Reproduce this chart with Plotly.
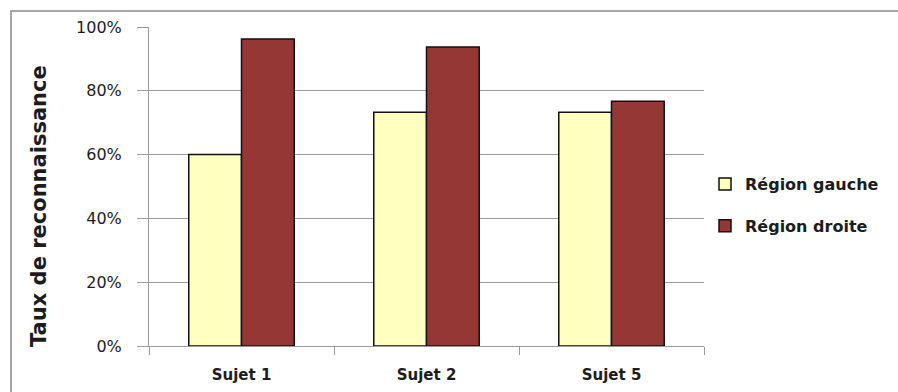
import plotly.graph_objects as go

# Recognition rate per subject, for the left and right regions
sujets = ["Sujet 1", "Sujet 2", "Sujet 5"]
region_gauche = [0.60, 0.733, 0.733]
region_droite = [0.962, 0.937, 0.767]
series_names = ["Région gauche", "Région droite"]
y_ticks = [0, 0.2, 0.4, 0.6, 0.8, 1.0]
y_title = "Taux de reconnaissance"

W, H = 898, 392
L, R, T, B = 149, 194, 27, 46
pw, ph = W - L - R, H - T - B


def px_x(x):
    return (x - L) / pw


def px_y(y):
    return (H - B - y) / ph


FONT = "DejaVu Sans"
TXT = "#1c1c1c"
GRID = "#9a9a9a"

fig = go.Figure()
fig.add_bar(x=sujets, y=region_gauche, name=series_names[0],
            marker=dict(color="#FFFFC0", line=dict(color="#111111", width=1.5)),
            legendgroup="g")
fig.add_bar(x=sujets, y=region_droite, name=series_names[1],
            marker=dict(color="#953735", line=dict(color="#111111", width=1.5)),
            legendgroup="d")

fig.update_layout(
    width=W, height=H,
    margin=dict(l=L, r=R, t=T, b=B, pad=0, autoexpand=False),
    paper_bgcolor="white", plot_bgcolor="white",
    barmode="group", bargap=0.43, bargroupgap=0,
    font=dict(family=FONT, color=TXT),
    showlegend=True,
    legend=dict(
        x=px_x(705), y=px_y(167), xanchor="left", yanchor="top",
        font=dict(family=FONT, size=16, weight="bold", color=TXT),
        tracegroupgap=18, bgcolor="rgba(0,0,0,0)",
    ),
    xaxis=dict(
        automargin=False,
        showline=True, linecolor=GRID, linewidth=1,
        ticks="outside", ticklen=8, tickcolor=GRID, tickson="boundaries",
        showgrid=False,
        tickfont=dict(family=FONT, size=15, weight="bold", color=TXT),
        ticklabelstandoff=15,
    ),
    yaxis=dict(
        automargin=False,
        range=[0, 1], tickvals=y_ticks, tickformat=".0%",
        showline=True, linecolor=GRID, linewidth=1,
        ticks="outside", ticklen=11, tickcolor=GRID,
        showgrid=True, gridcolor=GRID, gridwidth=1, zeroline=False,
        tickfont=dict(family=FONT, size=16, color=TXT),
        ticklabelstandoff=12,
    ),
    shapes=[dict(
        type="rect", xref="paper", yref="paper",
        x0=px_x(11), x1=px_x(905), y0=px_y(400), y1=px_y(11),
        line=dict(color="#a6a6a6", width=2), fillcolor="rgba(0,0,0,0)",
        layer="below",
    )],
    annotations=[dict(
        text=y_title, xref="paper", yref="paper",
        x=px_x(39), y=px_y(206), xanchor="center", yanchor="middle",
        textangle=-90, showarrow=False,
        font=dict(family=FONT, size=21, weight="bold", color=TXT),
    )],
)

fig.write_html("out.html")
